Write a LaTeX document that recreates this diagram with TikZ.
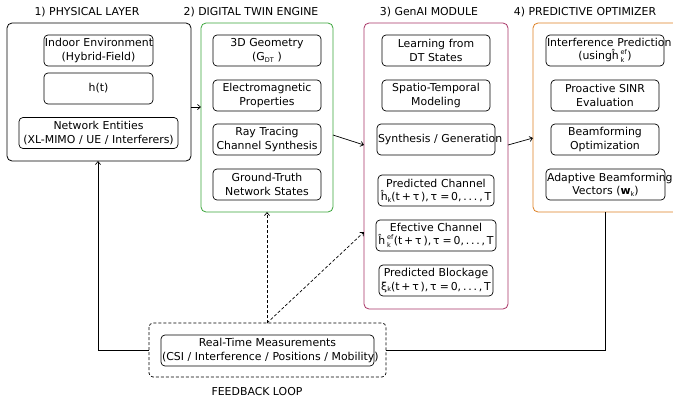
\documentclass[tikz,border=0pt]{standalone}
\usepackage{fontspec}
\setmainfont{DejaVu Sans}
\usetikzlibrary{arrows.meta}
\definecolor{dtgreen}{HTML}{3AA53A}
\definecolor{aimaroon}{HTML}{A83466}
\definecolor{optorange}{HTML}{DD7F22}
% stacked super/subscript and plain subscript in small text
\newcommand{\sbsp}[2]{\begingroup\fontsize{6.5}{6.5}\selectfont\hspace{1.8pt}\makebox[0pt][l]{\raisebox{5pt}{#1}}\raisebox{-2.6pt}{#2}\hspace{3pt}\endgroup}
\newcommand{\sbs}[1]{\begingroup\fontsize{6.5}{6.5}\selectfont\raisebox{-1.8pt}{#1}\endgroup}
% one unbreakable line of box text
\newcommand{\oneline}[1]{\mbox{#1}}
% time horizon tail shared by the prediction boxes
\newcommand{\horizon}{(t\,+\,τ\,),\,τ\;=\,0,\,.\,.\,.\,,\,T}
\begin{document}
\begin{tikzpicture}[x=1pt,y=-1pt,
  every node/.style={font=\fontsize{10.9}{13.3}\selectfont},
  panel/.style={draw, rounded corners=5, line width=0.8pt},
  ibox/.style={draw, rounded corners=4, line width=0.7pt, align=center, inner sep=1pt, minimum height=31pt},
  ttl/.style={inner sep=0pt},
  fine dash/.style={dash pattern=on 3pt off 2pt},
  link/.style={-{Straight Barb[length=3pt,width=5pt]}, line width=0.7pt},
  dlink/.style={link, fine dash}]
\useasboundingbox (0,0) rectangle (673,408);

% stage titles
\node[ttl] (t1) at (87,12) {1) PHYSICAL LAYER};
\node[ttl] (t2) at (251,12) {2) DIGITAL TWIN ENGINE};
\node[ttl] (t3) at (429,12) {3) GenAI MODULE};
\node[ttl] (t4) at (585,12) {4) PREDICTIVE OPTIMIZER};

% stage frames
\draw[panel] (7,23) rectangle (191,161);
\node[inner sep=0pt, minimum width=184pt, minimum height=138pt] (phys) at (99,92) {};
\draw[panel, dtgreen] (201,23) rectangle (333,212);
\node[inner sep=0pt, minimum width=132pt, minimum height=189pt] (dt) at (267,117.5) {};
\draw[panel, aimaroon] (364,23) rectangle (508,309);
\node[inner sep=0pt, minimum width=144pt, minimum height=286pt] (gen) at (436,166) {};
\draw[panel, optorange] (533,23) rectangle (690,212);
\node[inner sep=0pt, minimum width=157pt, minimum height=189pt] (opt) at (611.5,117.5) {};

% physical layer
\node[ibox, text width=107pt] (env) at (98.5,50.5) {\oneline{Indoor Environment}\\\oneline{(Hybrid-Field)}};
\node[ibox, text width=107pt] (ht) at (98.5,88.5) {h(t)};
\node[ibox, text width=157pt] (ent) at (98.5,133) {\oneline{Network Entities}\\\oneline{(XL-MIMO / UE / Interferers)}};

% digital twin
\node[ibox, text width=106pt] (geo) at (267,50.5) {\oneline{3D Geometry}\\\oneline{(G\sbs{DT} )}};
\node[ibox, text width=106pt] (em) at (267,95.5) {\oneline{Electromagnetic}\\\oneline{Properties}};
\node[ibox, text width=106pt] (ray) at (267,139.5) {\oneline{Ray Tracing}\\\oneline{Channel Synthesis}};
\node[ibox, text width=106pt] (gt) at (267,184.5) {\oneline{Ground-Truth}\\\oneline{Network States}};

% generative module
\node[ibox, text width=106pt] (learn) at (436,50.5) {\oneline{Learning from}\\\oneline{DT States}};
\node[ibox, text width=106pt] (spt) at (436,95.5) {\oneline{Spatio-Temporal}\\\oneline{Modeling}};
\node[ibox, text width=116pt] (syn) at (436,139.5) {\oneline{Synthesis / Generation}};
\node[ibox, text width=114pt] (pch) at (436,190.5) {\oneline{Predicted Channel}\\\oneline{ĥ\sbs{k}\horizon}};
\node[ibox, text width=118pt] (ech) at (436,235.5) {\oneline{Efective Channel}\\\oneline{ĥ\sbsp{ef}{k}\horizon}};
\node[ibox, text width=112pt] (blk) at (436,280.5) {\oneline{Predicted Blockage}\\\oneline{ξ\sbs{k}\horizon}};

% predictive optimizer
\node[ibox, text width=116pt] (intf) at (605,50.5) {\oneline{Interference Prediction}\\\oneline{(usingĥ\sbsp{ef}{k})}};
\node[ibox, text width=106pt] (sinr) at (605,95.5) {\oneline{Proactive SINR}\\\oneline{Evaluation}};
\node[ibox, text width=106pt] (bfo) at (605,139.5) {\oneline{Beamforming}\\\oneline{Optimization}};
\node[ibox, text width=117pt] (abv) at (605.5,184.5) {\oneline{Adaptive Beamforming}\\\oneline{Vectors (\textbf{w}\sbs{k})}};

% feedback loop
\draw[fine dash, rounded corners=4, line width=0.7pt] (149,323) rectangle (386,377);
\node[inner sep=0pt, minimum width=237pt, minimum height=54pt] (fb) at (267.5,350) {};
\node[ibox, text width=211pt] (rtm) at (267.5,350.5) {\oneline{Real-Time Measurements}\\\oneline{(CSI / Interference / Positions / Mobility)}};
\node[ttl] (fbl) at (257,392) {FEEDBACK LOOP};

% forward flow between stages
\draw[link] (191,107) -- (201,107);
\draw[link] (333,135) -- (364,145);
\draw[link] (508,145) -- (533,138);

% feedback paths
\coordinate (fbtop) at (267,323);
\coordinate (ectarget) at (364,232);
\draw[link] (fb.west) -| (98,161);
\draw[line width=0.7pt] (fb.east) -| (605,212);
\draw[dlink] (fbtop) -- (267,212);
\draw[dlink] (fbtop) -- (ectarget);
\end{tikzpicture}
\end{document}
